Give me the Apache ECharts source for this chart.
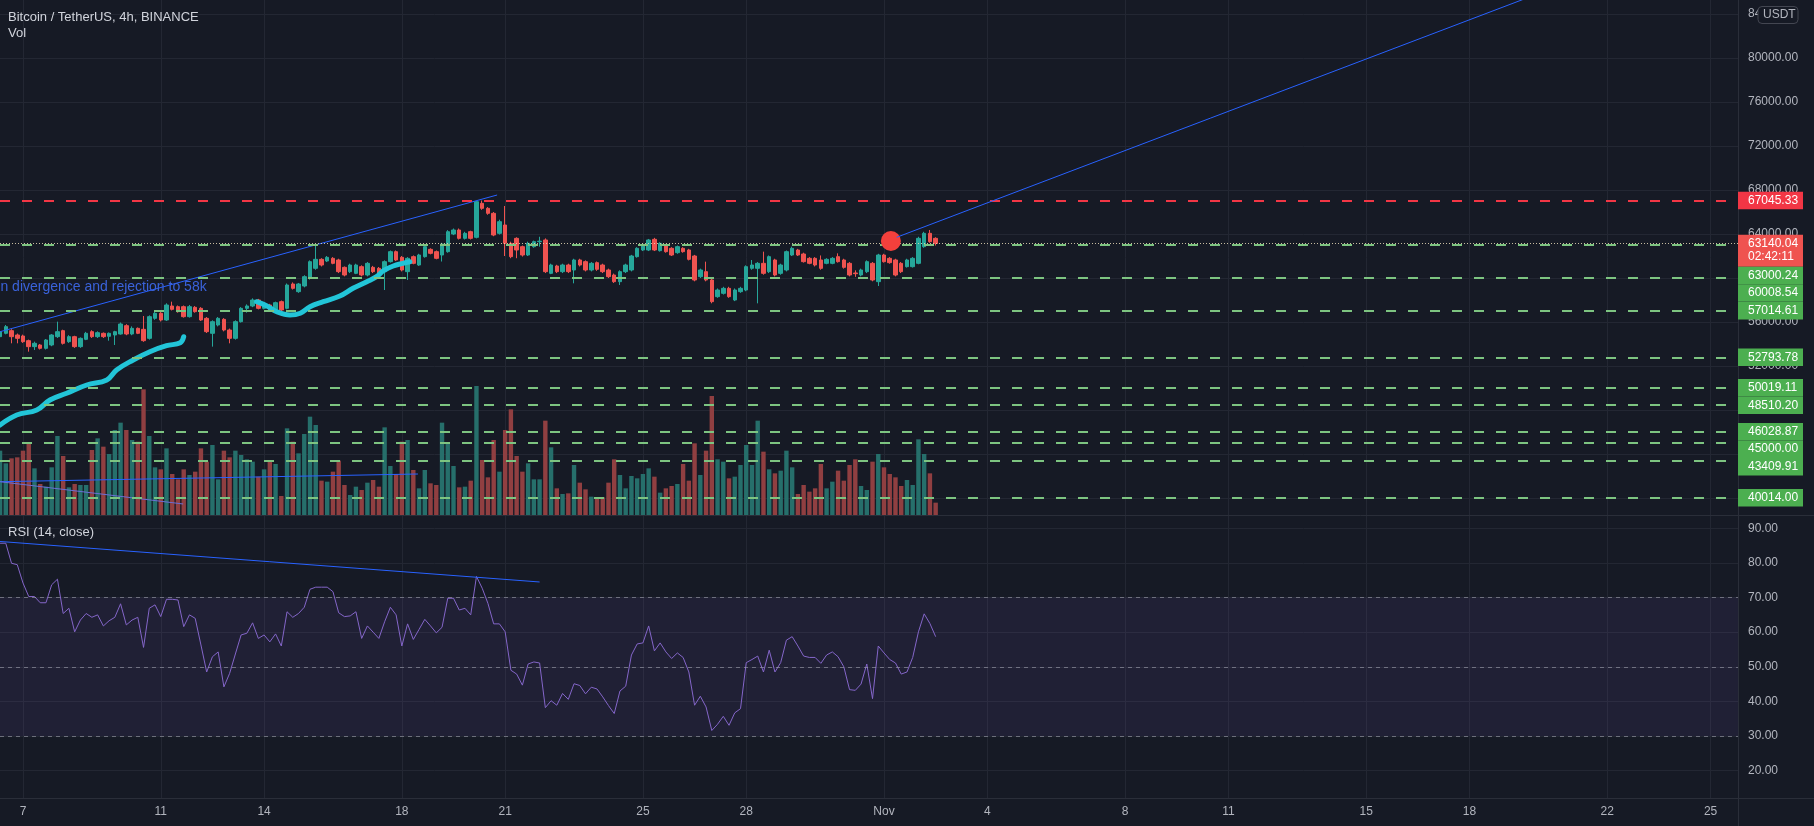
<!DOCTYPE html>
<html><head><meta charset="utf-8">
<script src="https://cdn.jsdelivr.net/npm/echarts@6/dist/echarts.min.js"></script>
<style>html,body{margin:0;padding:0;background:#161a25;overflow:hidden}#c{width:1814px;height:826px}</style>
</head><body><div id="c"></div>
<script>
// ---- data (4h bars; bar index 0 = 7 Oct 00:00) ----
const firstBar = -4;
const opens = [
54667,54971,55213,54819,54728,54304,53759,53910,53607,53910,
54668,55213,54213,54668,53759,54425,55122,54668,54971,54700,
54819,54910,55668,54910,55425,55334,54516,56334,56789,56183,
57455,57395,57395,56486,57334,57243,56334,54971,55728,56243,
55274,54516,56031,57243,57455,58000,57243,57546,57092,57849,
57243,59455,58758,59273,59970,60880,61697,61546,61788,61637,
60970,60576,60425,61031,60273,60970,60880,60576,61485,62394,
61879,60576,61940,61182,61940,62606,62394,62091,62394,64000,
64364,63606,64212,63697,66788,66333,65879,
64061,64818,63152,63606,62849,62091,62849,63300,63455,60425,
61091,60576,61182,60728,61637,61485,60728,61394,61182,60728,
60273,59667,60576,60728,61940,62546,62546,63515,62485,63000,
62697,62303,62697,62546,61999,60122,60576,59819,58303,58606,
59061,58000,58758,58909,60880,60880,61334,60576,61637,60425,
60728,62091,62546,62182,61788,61788,61637,61334,61334,61940,
61637,61334,60455,60273,60576,61334,59667,62091,61788,61637,
61334,61031,61031,61334,62849,64061,63606];
const highs = [
55274,55728,55350,54950,54850,54400,54213,54000,54450,54900,
56031,55300,54800,54750,54600,55100,55250,55150,55050,55050,
55200,55950,55800,55600,55500,56546,56600,56950,56900,57700,
57849,57500,57500,57550,57450,57350,56450,56150,56450,56350,
55400,56150,57350,57600,58150,58100,57650,57650,57850,57950,
59500,59600,59550,60250,61600,62998,61800,62000,61900,61750,
61050,61300,61300,61150,61450,61100,61000,61600,62500,62500,
62000,61900,62050,62200,62950,62700,62500,63200,64350,64500,
64500,64200,64300,67000,67045,66450,66000,
65300,66545,63300,63700,62950,63300,63400,63750,63600,61300,
61200,61300,61300,61750,61750,61600,61450,61500,61300,60850,
60400,60700,61300,62100,62800,63150,63550,63650,63250,63100,
62800,62950,62800,62650,62100,60850,61485,59950,59050,59200,
59200,59050,59200,61150,61637,61450,62394,62050,61750,61300,
62500,62849,62650,62300,61900,61900,62050,61800,61900,62243,
61750,61450,60700,60850,61600,61450,62200,62200,61900,61750,
61450,61750,61900,63750,64200,64364,63700];
const lows = [
54516,54880,54062,54062,54100,53304,53456,53500,53500,53800,
54550,53950,54100,53650,53650,54350,54550,54550,54550,54300,
53910,54850,54800,54800,54900,54200,54400,56200,56050,56100,
57050,56850,56400,56400,56850,56100,55000,53759,55600,55150,
54062,54400,55950,56850,57350,57150,57150,57000,57000,57000,
57150,58950,58650,59150,59850,60750,61050,61450,61250,60450,
60150,60450,60350,60150,60150,60450,60300,58909,61400,61550,
60600,59819,61250,61100,61850,62150,61700,61500,62300,63900,
63500,63500,63500,63600,66200,65750,63800,
63950,62000,61800,61800,61950,62000,62750,62850,60450,60350,
60450,60450,60450,59515,61050,60600,60600,60650,60450,60000,
59550,59364,60450,60600,61850,62450,62450,62450,62400,62300,
62000,62200,62300,61600,59700,60000,59700,57700,58200,58500,
58200,57900,58650,58800,60750,57697,60300,60450,60150,60300,
60600,62000,62000,61400,61250,61050,60750,61250,61250,61400,
60850,60150,60100,60150,60450,59700,59273,61400,61300,60150,
60450,60950,60950,61250,62750,63200,62950];
const closes = [
55122,55577,54667,54516,54213,53759,54062,53607,54365,54819,
55122,54062,54668,53759,54516,54971,54668,55031,54668,54971,
55122,55819,54910,55425,54971,54304,56486,56789,56183,57546,
57152,56940,56486,57395,56940,56183,55122,56031,56334,55274,
54516,56031,57243,57455,58000,57243,57546,57092,57758,57092,
59364,59061,59455,60122,61485,61697,61182,61879,61334,60576,
60273,61182,61182,60273,61334,60576,60425,61485,62394,61637,
60728,61788,61334,62091,62849,62243,61788,63091,64212,64364,
63606,64061,63606,66939,66333,65879,63909,
65121,63152,61940,62546,62091,63152,63303,63350,60576,61182,
60576,61182,60576,61637,61182,60728,61334,60789,60576,60122,
59667,60576,61182,61999,62697,63000,63455,62546,63152,62394,
62091,62849,62394,61697,59819,60728,59819,57849,58909,59061,
58303,58909,59061,61031,61182,61334,60425,61940,60273,61182,
62394,62697,62091,61485,61334,61182,60880,61697,61788,61485,
60970,60273,60394,60728,61485,59819,62091,61485,61394,60273,
60576,61637,61788,63606,64061,63303,63140];
const volumes = [
9650,7750,8500,8650,9650,10750,7000,4650,4250,7150,
11850,8850,4150,4650,4500,4500,9750,11500,10250,9150,
12750,13850,12750,11250,11000,18850,11850,7150,6850,10000,
6150,5350,6850,6000,6500,10000,8000,10500,5350,9650,
8650,9650,9000,8350,8000,5750,6850,8150,7650,2850,
13000,11000,9250,12150,14750,13500,5150,5000,6500,8150,
4500,3000,4250,3750,4850,5250,4250,13150,7350,6150,
11000,11250,6750,4000,6750,4750,4500,13850,10850,7350,
4150,4250,5150,19350,8250,5650,11250,
6500,12750,15850,8850,6500,7750,5350,5350,14150,10150,
4000,3150,3250,7500,4850,3850,2750,2650,2650,4850,
8350,6000,4000,5850,5500,6150,7000,5750,3350,4000,
4350,4650,7650,5150,10750,6000,9650,17850,8350,8000,
5500,5750,7500,10500,7500,14150,9500,6850,6250,6650,
9650,7150,3150,4500,3500,4000,7650,4000,5000,6650,
5150,7500,8350,4350,3750,8000,9150,7150,6150,5650,
4350,5250,4500,11350,9150,6250,1850];
const rsiValues = [
85.7,85.7,79.9,79.5,74.2,70.3,70.3,68.5,68.5,73.7,
75.3,65.4,66.9,60.1,63.5,65.4,64.3,65.0,61.8,63.3,
64.3,68.2,62.1,63.5,64.3,55.6,66.9,67.9,64.5,69.5,
69.5,69.3,61.6,65.0,64.0,56.3,48.5,52.9,54.3,44.2,
48.1,53.7,59.2,59.7,62.7,58.2,59.2,57.2,59.5,56.0,
65.9,64.3,65.4,67.2,72.4,73.0,73.0,73.0,71.7,65.6,
64.5,64.7,65.9,58.2,61.8,60.0,58.2,63.0,67.2,65.0,
56.0,62.4,57.9,60.8,63.7,61.8,59.8,61.4,69.8,69.8,
66.4,66.9,65.0,76.1,72.7,68.3,62.4,
62.4,60.1,49.0,47.9,44.7,50.8,51.4,51.1,38.2,40.2,
38.9,42.3,40.6,45.1,44.6,42.2,44.1,43.6,41.3,38.8,
36.5,43.0,44.4,53.4,56.6,56.9,61.8,54.6,56.9,54.3,
52.4,54.0,52.7,48.5,38.9,41.5,38.4,31.6,33.4,35.7,
33.1,36.7,37.9,51.2,52.1,53.1,48.5,54.8,48.5,51.2,
57.7,58.7,56.0,53.1,52.7,52.7,51.0,53.4,54.3,52.9,
50.0,43.4,43.2,45.0,50.8,40.8,56.0,54.0,52.1,51.1,
47.9,48.5,52.7,60.1,65.3,62.5,58.7];
const tickBars = [0,24,42,66,84,108,126,150,168,192,210,234,252,276,294];
const tickLabels = ['7','11','14','18','21','25','28','Nov','4','8','11','15','18','22','25'];
const priceTicks = [40000,44000,48000,52000,56000,60000,64000,68000,72000,76000,80000,84000];
const rsiTicks = [20,30,40,50,60,70,80,90];
const resistanceLevels = [67045.33];
const supportLevels = [63000.24,60008.54,57014.61,52793.78,50019.11,48510.20,46028.87,45000.00,43409.91,40014.00];
const lastPrice = 63140.04;
const countdown = '02:42:11';
const rsiBands = [70,50,30];
const cyanPath1 = [[-4.0,46636],[-1.1,47545],[2.4,48000],[4.7,48909],[7.6,49518],[11.1,50273],[14.6,50727],[16.3,51636],[19.2,52545],[22.1,53300],[25.0,53845],[27.4,54118],[28.0,54664]];
const cyanPath2 = [[40.7,57845],[42.5,57455],[44.2,56936],[46.5,56636],[48.3,56791],[50.0,57391],[52.3,57845],[55.2,58364],[57.5,59064],[59.9,59664],[61.6,60118],[62.8,60664],[64.5,61091],[66.2,61336],[67.4,61482]];
const trendUp1 = [[-4.0,55118],[82.6,67545]];
const trendUp2 = [[152.2,63700],[270,87040]];
const volTrendA = [[-4.0,41482],[68.8,42182]];
const volTrendB = [[-4.0,41482],[27.9,39455]];
const rsiTrend = [[-4.0,86.2],[90.0,74.5]];
const signalDot = [[151.2,63360]];
const noteText = 'n divergence and rejection to 58k';
const noteAnchor = [32.0,59209];
const titleText = 'Bitcoin / TetherUS, 4h, BINANCE';

// ---- chart ----
const BG = '#161a25', GRIDC = '#232733', AXT = '#b2b5be', FONT = '"Liberation Sans", Arial, sans-serif';
const UP = '#26a69a', DOWN = '#ef5350';
const chart = echarts.init(document.getElementById('c'), null, {renderer:'canvas', width:1814, height:826});
const idx = i => firstBar + i;
const candleData = opens.map((o,i)=>[idx(i), o, closes[i], lows[i], highs[i]]);
const volData = volumes.map((v,i)=>({value:[idx(i), v], itemStyle:{color: closes[i]>=opens[i] ? '#266f6b' : '#903f41'}}));
const rsiData = rsiValues.map((r,i)=>[idx(i), r]);

const xBase = {type:'value', min:-4.007, max:298.78,
  axisLine:{show:false}, axisTick:{show:false, customValues:tickBars},
  axisLabel:{show:false, customValues:tickBars},
  splitLine:{show:true, lineStyle:{color:GRIDC, width:1}}};
const labelFmt = v => { const k = tickBars.indexOf(Math.round(v)); return k>=0 ? tickLabels[k] : ''; };
const lineS = (data, color, xi, yi, extra) => Object.assign({type:'line', data, xAxisIndex:xi, yAxisIndex:yi,
  showSymbol:false, symbol:'none', silent:true, lineStyle:{color, width:1}, z:4}, extra||{});

const option = {
  backgroundColor: BG, animation:false,
  textStyle:{fontFamily:FONT},
  grid:[
    {left:0, top:0, width:1738, height:515, containLabel:false, outerBoundsMode:'none'},
    {left:0, top:380, width:1738, height:135, containLabel:false, outerBoundsMode:'none'},
    {left:0, top:515, width:1738, height:283, containLabel:false, outerBoundsMode:'none'}],
  xAxis:[
    Object.assign({}, xBase, {gridIndex:0}),
    Object.assign({}, xBase, {gridIndex:1, splitLine:{show:false}}),
    Object.assign({}, xBase, {gridIndex:2, axisLine:{show:true, lineStyle:{color:'#2a2e39'}},
      axisLabel:{show:true, customValues:tickBars, formatter:labelFmt, color:AXT, fontSize:12, margin:8}})],
  yAxis:[
    {type:'value', gridIndex:0, position:'right', min:38455, max:85273, axisLine:{show:false},
      axisTick:{show:false, customValues:priceTicks},
      axisLabel:{customValues:priceTicks, formatter:v=>Number(v).toFixed(2), color:AXT, fontSize:12, margin:10},
      splitLine:{show:true, lineStyle:{color:GRIDC}}},
    {type:'value', gridIndex:1, min:0, max:20250, show:false, splitLine:{show:false}},
    {type:'value', gridIndex:2, position:'right', min:12.1, max:93.85, axisLine:{show:false},
      axisTick:{show:false, customValues:rsiTicks},
      axisLabel:{customValues:rsiTicks, formatter:v=>Number(v).toFixed(2), color:AXT, fontSize:12, margin:10},
      splitLine:{show:true, lineStyle:{color:GRIDC}}}],
  series:[
    {type:'bar', name:'Vol', xAxisIndex:1, yAxisIndex:1, data:volData, barWidth:4.4, silent:true, z:1},
    {type:'candlestick', xAxisIndex:0, yAxisIndex:0, data:candleData, barWidth:4, silent:true, z:2,
      encode:{x:0, y:[1,2,3,4]},
      itemStyle:{color:UP, color0:DOWN, borderColor:UP, borderColor0:DOWN, borderWidth:1},
      markLine:{silent:true, symbol:['none','none'], label:{show:false}, animation:false, z:5,
        data:[].concat(
          resistanceLevels.map(p=>({yAxis:p, lineStyle:{color:'#f23645', width:2, type:[10,12]}})),
          supportLevels.map(p=>({yAxis:p, lineStyle:{color:'#7dc481', width:2, type:[10,12]}})),
          [{yAxis:lastPrice, lineStyle:{color:'#e6d9b5', width:1, type:[1,2], opacity:0.85}}])}},
    lineS(cyanPath1, '#22c5d8', 0, 0, {smooth:0.4, lineStyle:{color:'#22c5d8', width:5, cap:'round'}, z:3}),
    lineS(cyanPath2, '#22c5d8', 0, 0, {smooth:0.4, lineStyle:{color:'#22c5d8', width:5, cap:'round'}, z:3}),
    lineS(trendUp1, '#2962ff', 0, 0),
    lineS(volTrendA, '#2962ff', 0, 0),
    lineS(volTrendB, '#6b6fd6', 0, 0),
    {type:'scatter', xAxisIndex:0, yAxisIndex:0, data:signalDot, symbolSize:20, silent:true,
      itemStyle:{color:'#f3403c', opacity:1}, z:6},
    lineS(trendUp2, '#2962ff', 0, 0, {z:7}),
    {type:'line', xAxisIndex:2, yAxisIndex:2, data:rsiData, showSymbol:false, symbol:'none', silent:true,
      lineStyle:{color:'#8466c9', width:1}, z:3,
      markArea:{silent:true, itemStyle:{color:'rgba(126,87,194,0.10)'}, data:[[{yAxis:30},{yAxis:70}]]},
      markLine:{silent:true, symbol:['none','none'], label:{show:false}, animation:false,
        data:rsiBands.map(v=>({yAxis:v, lineStyle:{color:'rgba(170,172,182,0.55)', width:1, type:[4,4]}}))}},
    lineS(rsiTrend, '#2962ff', 2, 2)
  ]
};
chart.setOption(option);

// ---- overlays: price tags, legend text, pane borders ----
const py = p => chart.convertToPixel({yAxisIndex:0}, p);
const px = v => chart.convertToPixel({xAxisIndex:0}, v);
const els = [];
const TAG_X = 1738, TAG_W = 65, TAG_H = 17.5;
const txt = (t, x, y, fill, size, extra) => Object.assign({type:'text', z:101, silent:true,
  style:{text:t, x, y, fill, font: size + 'px ' + FONT, verticalAlign:'middle', textVerticalAlign:'middle'}}, extra||{});
const tags = [];
resistanceLevels.forEach(p=>tags.push({price:p, fill:'#f23645', lines:[p.toFixed(2)]}));
tags.push({price:lastPrice, fill:'#ef5350', lines:[lastPrice.toFixed(2), countdown]});
supportLevels.forEach(p=>tags.push({price:p, fill:'#4caf50', lines:[p.toFixed(2)]}));
tags.sort((a,b)=>b.price-a.price);
let prevBottom = -1e9;
tags.forEach(t=>{
  const h = t.lines.length === 2 ? 32 : TAG_H;
  let top = py(t.price) - TAG_H/2;
  if (top < prevBottom) top = prevBottom;
  prevBottom = top + h;
  els.push({type:'rect', z:100, silent:true, shape:{x:TAG_X, y:top, width:TAG_W, height:h}, style:{fill:t.fill}});
  t.lines.forEach((s,k)=>els.push(txt(s, 1748, top + TAG_H/2 + k*13.5, '#ffffff', 12)));
});
// currency badge
els.push({type:'rect', z:100, silent:true, shape:{x:1758, y:6.5, width:40, height:17, r:4}, style:{fill:BG, stroke:'#434651', lineWidth:1}});
els.push(txt('USDT', 1763, 15, AXT, 12));
// pane borders
els.push({type:'line', z:99, silent:true, shape:{x1:0, y1:515.5, x2:1814, y2:515.5}, style:{stroke:'#2a2e39', lineWidth:1}});
els.push({type:'line', z:99, silent:true, shape:{x1:0, y1:798.5, x2:1814, y2:798.5}, style:{stroke:'#2a2e39', lineWidth:1}});
els.push({type:'line', z:99, silent:true, shape:{x1:1738.5, y1:0, x2:1738.5, y2:826}, style:{stroke:'#2a2e39', lineWidth:1}});
// legends
els.push(txt(titleText, 8, 17, '#d1d4dc', 13));
els.push(txt('Vol', 8, 33, '#d1d4dc', 13));
els.push(txt('RSI (14, close)', 8, 532, '#d1d4dc', 13));
// note
els.push(txt(noteText, px(noteAnchor[0]), py(noteAnchor[1]), '#3a62da', 14, {}));
els[els.length-1].style.align = 'right'; els[els.length-1].style.textAlign = 'right';
chart.setOption({graphic:{elements:els}});
</script>
</body></html>
